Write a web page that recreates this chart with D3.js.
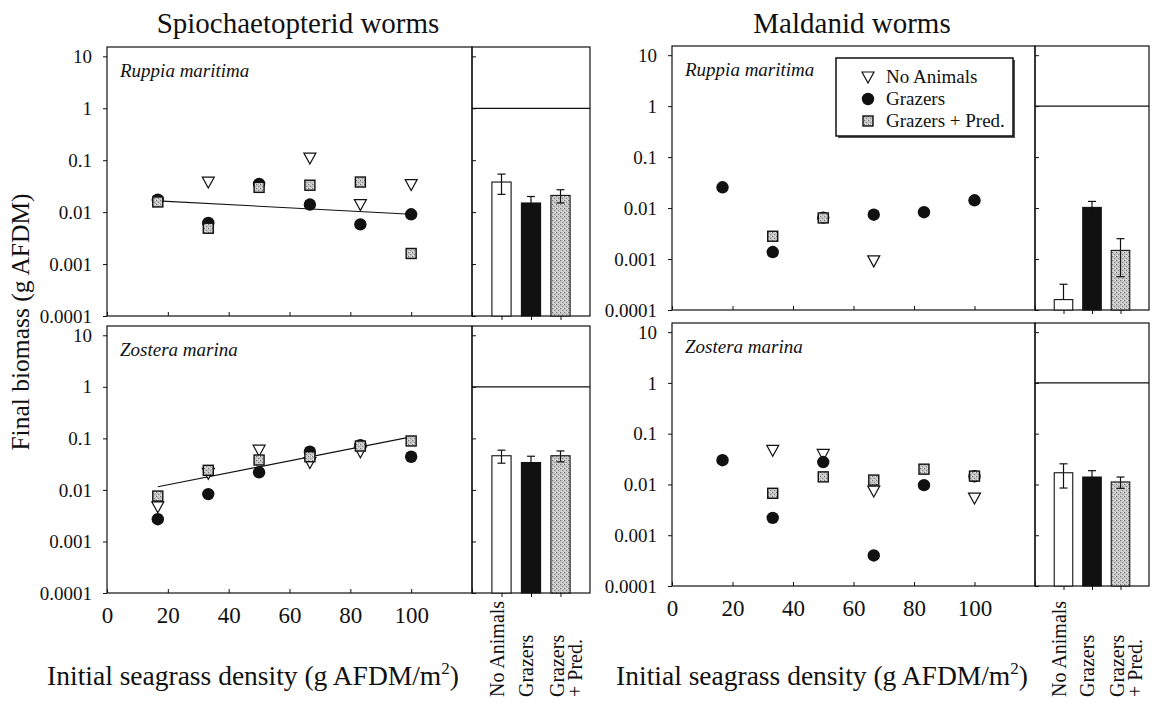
<!DOCTYPE html>
<html><head><meta charset="utf-8">
<script src="https://cdn.jsdelivr.net/npm/d3@7"></script>
</head><body style="margin:0;background:#fff">
<svg id="c" width="1156" height="710"></svg>
<script>
// ---------- data ----------
const densities = [16.7, 33.3, 50, 66.7, 83.3, 100];
const treatments = ["No Animals", "Grazers", "Grazers + Pred."];
const yTickValues = [10, 1, 0.1, 0.01, 0.001, 0.0001];
const yTickLabels = ["10", "1", "0.1", "0.01", "0.001", "0.0001"];
const xTickValues = [0, 20, 40, 60, 80, 100, 120];
const xTickLabels = ["0", "20", "40", "60", "80", "100", ""];

// Spiochaetopterid worms – Ruppia maritima
const spioRuppiaNoAnimals = [null, 0.038, null, 0.11, 0.014, 0.034];
const spioRuppiaGrazers   = [0.0174, 0.0062, 0.035, 0.014, 0.0058, 0.0091];
const spioRuppiaPred      = [0.0157, 0.0049, 0.030, 0.033, 0.038, 0.0016];
const spioRuppiaFitX = [16.7, 100];
const spioRuppiaFitY = [0.0165, 0.0091];
const spioRuppiaMeans = [0.038, 0.015, 0.021];
const spioRuppiaSE    = [0.016, 0.005, 0.006];

// Spiochaetopterid worms – Zostera marina
const spioZosteraNoAnimals = [0.0047, 0.021, 0.059, 0.034, 0.055, null];
const spioZosteraGrazers   = [0.0027, 0.0083, 0.022, 0.055, 0.074, 0.044];
const spioZosteraPred      = [0.0076, 0.024, 0.038, 0.044, 0.071, 0.089];
const spioZosteraFitX = [16.7, 100];
const spioZosteraFitY = [0.0115, 0.107];
const spioZosteraMeans = [0.046, 0.034, 0.046];
const spioZosteraSE    = [0.013, 0.011, 0.011];

// Maldanid worms – Ruppia maritima
const maldRuppiaNoAnimals = [null, null, null, 0.00092, null, null];
const maldRuppiaGrazers   = [0.0256, 0.00137, 0.0065, 0.0074, 0.0083, 0.0142];
const maldRuppiaPred      = [null, 0.0028, 0.0064, null, null, null];
const maldRuppiaMeans = [0.00016, 0.0103, 0.00148];
const maldRuppiaSE    = [0.00016, 0.0032, 0.00103];

// Maldanid worms – Zostera marina
const maldZosteraNoAnimals = [null, 0.047, 0.039, 0.0074, null, 0.0054];
const maldZosteraGrazers   = [0.030, 0.0022, 0.0276, 0.0004, 0.0097, 0.0145];
const maldZosteraPred      = [null, 0.0067, 0.0141, 0.0122, 0.020, 0.0146];
const maldZosteraMeans = [0.017, 0.014, 0.0112];
const maldZosteraSE    = [0.0085, 0.0047, 0.0028];

// ---------- layout ----------
const FONT = "Liberation Serif";
const ink = "#111";
const svg = d3.select("#c");
const defs = svg.append("defs");
const pat = defs.append("pattern").attr("id","stip").attr("width",4).attr("height",4)
  .attr("patternUnits","userSpaceOnUse");
pat.append("rect").attr("width",4).attr("height",4).attr("fill","#c4c4c4");
pat.append("rect").attr("x",0).attr("y",0).attr("width",1).attr("height",1).attr("fill","#6f6f6f");
pat.append("rect").attr("x",2).attr("y",2).attr("width",1).attr("height",1).attr("fill","#8a8a8a");
pat.append("rect").attr("x",3).attr("y",0).attr("width",1).attr("height",1).attr("fill","#e6e6e6");
pat.append("rect").attr("x",1).attr("y",3).attr("width",1).attr("height",1).attr("fill","#e6e6e6");

function txt(sel){ return sel.style("font-family", FONT).style("fill", ink); }

const cols = {
  left:  {x0: 107, xMid: 472, x1: 590, xLabel: 253},
  right: {x0: 672, xMid: 1035, x1: 1149, xLabel: 822}
};
const panels = [
  {col: cols.left,  yTop: 47,  yBot: 316, label: "Ruppia maritima", bottom: false,
   none: spioRuppiaNoAnimals, graz: spioRuppiaGrazers, pred: spioRuppiaPred,
   fitX: spioRuppiaFitX, fitY: spioRuppiaFitY, means: spioRuppiaMeans, se: spioRuppiaSE},
  {col: cols.left,  yTop: 326, yBot: 593, label: "Zostera marina", bottom: true,
   none: spioZosteraNoAnimals, graz: spioZosteraGrazers, pred: spioZosteraPred,
   fitX: spioZosteraFitX, fitY: spioZosteraFitY, means: spioZosteraMeans, se: spioZosteraSE},
  {col: cols.right, yTop: 46,  yBot: 310, label: "Ruppia maritima", bottom: false, legend: true,
   none: maldRuppiaNoAnimals, graz: maldRuppiaGrazers, pred: maldRuppiaPred,
   means: maldRuppiaMeans, se: maldRuppiaSE},
  {col: cols.right, yTop: 323, yBot: 586, label: "Zostera marina", bottom: true,
   none: maldZosteraNoAnimals, graz: maldZosteraGrazers, pred: maldZosteraPred,
   means: maldZosteraMeans, se: maldZosteraSE}
];

function tri(g, cx, cy){
  g.append("path").attr("d", `M${cx-6},${cy-5}L${cx+6},${cy-5}L${cx},${cy+6}Z`)
   .attr("fill","#fff").attr("stroke",ink).attr("stroke-width",1.2);
}
function dot(g, cx, cy){
  g.append("circle").attr("cx",cx).attr("cy",cy).attr("r",6.2).attr("fill",ink);
}
function sq(g, cx, cy){
  g.append("rect").attr("x",cx-5).attr("y",cy-5).attr("width",10).attr("height",10)
   .attr("fill","url(#stip)").attr("stroke",ink).attr("stroke-width",1.4);
}

panels.forEach(p => {
  const c = p.col;
  const g = svg.append("g");
  const x = d3.scaleLinear().domain([0, 120]).range([c.x0, c.xMid]);
  const y = d3.scaleLog().domain([1e-4, Math.pow(10, 1.18)]).range([p.yBot, p.yTop]);
  const xb = d3.scalePoint().domain(treatments).range([c.xMid, c.x1]).padding(1);
  const bw = xb.step() * 0.65;

  // frames
  g.append("rect").attr("x", c.x0).attr("y", p.yTop).attr("width", c.xMid - c.x0)
   .attr("height", p.yBot - p.yTop).attr("fill","none").attr("stroke",ink).attr("stroke-width",1.2);
  g.append("rect").attr("x", c.xMid).attr("y", p.yTop).attr("width", c.x1 - c.xMid)
   .attr("height", p.yBot - p.yTop).attr("fill","none").attr("stroke",ink).attr("stroke-width",1.2);

  // y axis
  const ya = g.append("g").attr("transform", `translate(${c.x0},0)`)
    .call(d3.axisLeft(y).tickValues(yTickValues).tickFormat((d,i) => yTickLabels[i])
      .tickSize(4).tickPadding(11));
  ya.select(".domain").remove();
  txt(ya.selectAll("text")).style("font-size", "19px");
  ya.selectAll("line").attr("stroke", ink);

  // x axis (scatter)
  const xa = g.append("g").attr("transform", `translate(0,${p.yBot})`)
    .call(d3.axisBottom(x).tickValues(xTickValues)
      .tickFormat((d,i) => p.bottom ? xTickLabels[i] : "")
      .tickSizeInner(-4).tickSizeOuter(0).tickPadding(14));
  xa.select(".domain").remove();
  txt(xa.selectAll("text")).style("font-size", "23px");
  xa.selectAll("line").attr("stroke", ink);

  // bar panel inward y ticks
  const ba = g.append("g").attr("transform", `translate(${c.xMid},0)`)
    .call(d3.axisRight(y).tickValues(yTickValues).tickFormat("").tickSize(4));
  ba.select(".domain").remove();
  ba.selectAll("line").attr("stroke", ink);

  // bar panel x ticks
  const bx = g.append("g").attr("transform", `translate(0,${p.yBot})`)
    .call(d3.axisBottom(xb).tickFormat("").tickSizeInner(4).tickSizeOuter(0));
  bx.select(".domain").remove();
  bx.selectAll("line").attr("stroke", ink);

  // reference line at 1 in bar panel
  g.append("line").attr("x1", c.xMid).attr("x2", c.x1).attr("y1", y(1)).attr("y2", y(1))
   .attr("stroke", ink).attr("stroke-width", 1.2);

  // bars
  const fills = ["#fff", ink, "url(#stip)"];
  treatments.forEach((t, i) => {
    const m = p.means[i], s = p.se[i];
    const cx = xb(t);
    g.append("rect").attr("x", cx - bw/2).attr("y", y(m)).attr("width", bw)
     .attr("height", p.yBot - y(m)).attr("fill", fills[i]).attr("stroke", ink).attr("stroke-width", 1.1);
    const hi = m + s, lo = m - s;
    const eb = g.append("g").attr("stroke", ink).attr("stroke-width", 1.2);
    eb.append("line").attr("x1", cx).attr("x2", cx).attr("y1", y(hi)).attr("y2", y(m));
    eb.append("line").attr("x1", cx-4).attr("x2", cx+4).attr("y1", y(hi)).attr("y2", y(hi));
    if (lo > 1e-4) {
      eb.append("line").attr("x1", cx).attr("x2", cx).attr("y1", y(m)).attr("y2", y(lo));
      eb.append("line").attr("x1", cx-4).attr("x2", cx+4).attr("y1", y(lo)).attr("y2", y(lo));
    }
  });

  // fit line
  if (p.fitX) {
    g.append("line").attr("x1", x(p.fitX[0])).attr("x2", x(p.fitX[1]))
     .attr("y1", y(p.fitY[0])).attr("y2", y(p.fitY[1])).attr("stroke", ink).attr("stroke-width", 1.1);
  }

  // points
  densities.forEach((d, i) => { if (p.none[i] != null) tri(g, x(d), y(p.none[i])); });
  densities.forEach((d, i) => { if (p.graz[i] != null) dot(g, x(d), y(p.graz[i])); });
  densities.forEach((d, i) => { if (p.pred[i] != null) sq(g, x(d), y(p.pred[i])); });

  // species label
  txt(g.append("text").attr("x", c.x0 + 13).attr("y", p.yTop + 30))
   .style("font-size", "19px").style("font-style", "italic").text(p.label);

  // bottom labels
  if (p.bottom) {
    const al = txt(g.append("text").attr("x", c.xLabel).attr("y", 685).attr("text-anchor", "middle"))
      .style("font-size", "27.5px");
    al.append("tspan").text("Initial seagrass density (g AFDM/m");
    al.append("tspan").attr("dy", -11).style("font-size", "17px").text("2");
    al.append("tspan").attr("dy", 11).text(")");
    const lab = [["No Animals"], ["Grazers"], ["Grazers", "+ Pred."]];
    treatments.forEach((t, i) => {
      const lines = lab[i];
      const tg = g.append("g").attr("transform", `translate(${xb(t)},697) rotate(-90)`);
      lines.forEach((ln, k) => {
        const off = lines.length === 1 ? -5 : (k === 0 ? -4 : 14);
        txt(tg.append("text").attr("x", 0).attr("y", off + 7).attr("text-anchor", "start"))
          .style("font-size", "20px").text(ln);
      });
    });
  }

  // legend
  if (p.legend) {
    const lx = 836, ly = 58, lw = 177, lh = 78;
    g.append("rect").attr("x", lx+2).attr("y", ly+2).attr("width", lw).attr("height", lh).attr("fill", "#555");
    g.append("rect").attr("x", lx).attr("y", ly).attr("width", lw).attr("height", lh)
     .attr("fill", "#fff").attr("stroke", ink).attr("stroke-width", 1.5);
    const fns = [tri, dot, sq];
    treatments.forEach((t, i) => {
      const yy = ly + 19 + i * 22;
      fns[i](g, lx + 32, yy);
      txt(g.append("text").attr("x", lx + 50).attr("y", yy + 6)).style("font-size", "19px").text(t);
    });
  }
});

// titles
txt(svg.append("text").attr("x", 298).attr("y", 33).attr("text-anchor", "middle"))
  .style("font-size", "29px").text("Spiochaetopterid worms");
txt(svg.append("text").attr("x", 852).attr("y", 33).attr("text-anchor", "middle"))
  .style("font-size", "29px").text("Maldanid worms");
txt(svg.append("text").attr("transform", "translate(29,322) rotate(-90)").attr("text-anchor", "middle"))
  .style("font-size", "25.5px").text("Final biomass (g AFDM)");
</script>
</body></html>
